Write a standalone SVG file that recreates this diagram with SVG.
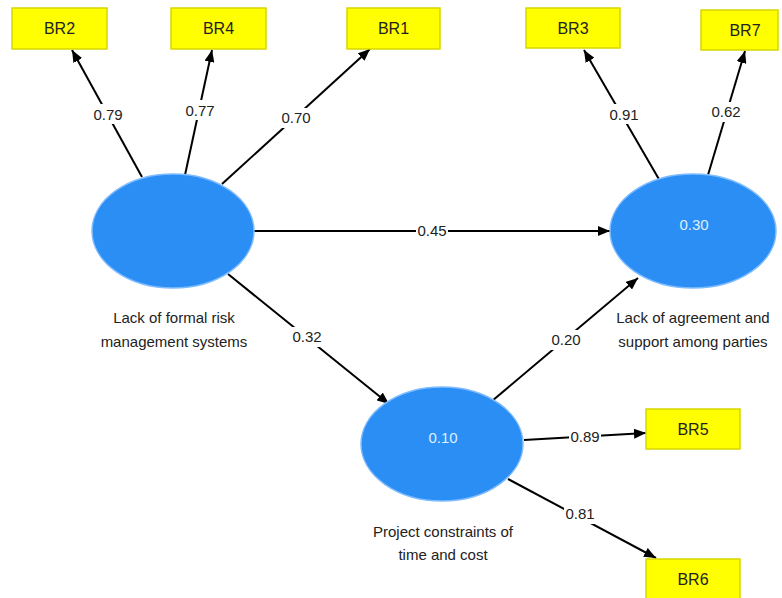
<svg xmlns="http://www.w3.org/2000/svg" width="782" height="598" viewBox="0 0 782 598">
<defs>
<marker id="ah" viewBox="0 0 12 10" refX="12" refY="5" markerWidth="12" markerHeight="10" markerUnits="userSpaceOnUse" orient="auto">
<path d="M0,0 L12,5 L0,10 Z" fill="#000"/>
</marker>
<style>
.box{fill:#ffff00;stroke:#d6d600;stroke-width:1.5}
.bt{font-family:"Liberation Sans",Arial,sans-serif;font-size:16px;fill:#222;text-anchor:middle}
.lv{fill:#2b8ef5;stroke:#7fbcff;stroke-width:1.5}
.lt{font-family:"Liberation Sans",Arial,sans-serif;font-size:15px;fill:#dfefff;text-anchor:middle}
.cap{font-family:"Liberation Sans",Arial,sans-serif;font-size:15px;fill:#222;text-anchor:middle}
.ln{stroke:#000;stroke-width:2;fill:none;marker-end:url(#ah)}
.lb{fill:#fff}
.wt{font-family:"Liberation Sans",Arial,sans-serif;font-size:15px;fill:#222;text-anchor:middle}
</style>
</defs>
<rect width="782" height="598" fill="#fff"/>
<g id="connectors">
<line class="ln" x1="142" y1="177" x2="72" y2="50"/>
<line class="ln" x1="185" y1="175" x2="212" y2="50"/>
<line class="ln" x1="222" y1="184" x2="370" y2="49"/>
<line class="ln" x1="660" y1="181" x2="584" y2="50"/>
<line class="ln" x1="708" y1="175" x2="745" y2="51"/>
<line class="ln" x1="254" y1="231" x2="610" y2="231"/>
<line class="ln" x1="228" y1="274" x2="389" y2="404"/>
<line class="ln" x1="492" y1="401" x2="638" y2="278"/>
<line class="ln" x1="524" y1="440" x2="646" y2="433"/>
<line class="ln" x1="508" y1="479" x2="656" y2="558"/>
<rect class="lb" x="92" y="104" width="32" height="20"/><text class="wt" x="108" y="120">0.79</text>
<rect class="lb" x="184" y="100" width="32" height="20"/><text class="wt" x="200" y="116">0.77</text>
<rect class="lb" x="280" y="108" width="32" height="20"/><text class="wt" x="296" y="123">0.70</text>
<rect class="lb" x="608" y="104" width="32" height="20"/><text class="wt" x="624" y="120">0.91</text>
<rect class="lb" x="710" y="102" width="32" height="20"/><text class="wt" x="726" y="117">0.62</text>
<rect class="lb" x="416" y="221" width="32" height="20"/><text class="wt" x="432" y="236">0.45</text>
<rect class="lb" x="291" y="327" width="32" height="20"/><text class="wt" x="307" y="342">0.32</text>
<rect class="lb" x="550" y="330" width="32" height="20"/><text class="wt" x="566" y="345">0.20</text>
<rect class="lb" x="569" y="427" width="32" height="20"/><text class="wt" x="585" y="442">0.89</text>
<rect class="lb" x="564" y="504" width="32" height="20"/><text class="wt" x="580" y="519">0.81</text>
</g>
<g id="BR2"><rect class="box" x="12" y="8" width="95" height="41"/><text class="bt" x="59.5" y="34">BR2</text></g>
<g id="BR4"><rect class="box" x="171" y="8" width="95" height="41"/><text class="bt" x="218.5" y="34">BR4</text></g>
<g id="BR1"><rect class="box" x="347" y="8" width="93" height="41"/><text class="bt" x="393.5" y="34">BR1</text></g>
<g id="BR3"><rect class="box" x="526" y="8" width="94" height="40"/><text class="bt" x="573" y="34">BR3</text></g>
<g id="BR7"><rect class="box" x="701" y="10" width="77" height="40"/><text class="bt" x="745" y="36">BR7</text></g>
<g id="BR5"><rect class="box" x="646" y="409" width="94" height="40"/><text class="bt" x="693" y="435">BR5</text></g>
<g id="BR6"><rect class="box" x="646" y="559" width="94" height="40"/><text class="bt" x="693" y="585">BR6</text></g>
<g id="formal-risk">
<ellipse class="lv" cx="173" cy="231" rx="81" ry="57"/>
<text class="cap" x="174" y="323">Lack of formal risk</text>
<text class="cap" x="174" y="347">management systems</text>
</g>
<g id="agreement">
<ellipse class="lv" cx="693" cy="231" rx="83" ry="57"/>
<text class="lt" x="694" y="230">0.30</text>
<text class="cap" x="693" y="323">Lack of agreement and</text>
<text class="cap" x="693" y="347">support among parties</text>
</g>
<g id="constraints">
<ellipse class="lv" cx="442" cy="444" rx="81" ry="57"/>
<text class="lt" x="443" y="443">0.10</text>
<text class="cap" x="443" y="537">Project constraints of</text>
<text class="cap" x="443" y="560">time and cost</text>
</g>
</svg>
